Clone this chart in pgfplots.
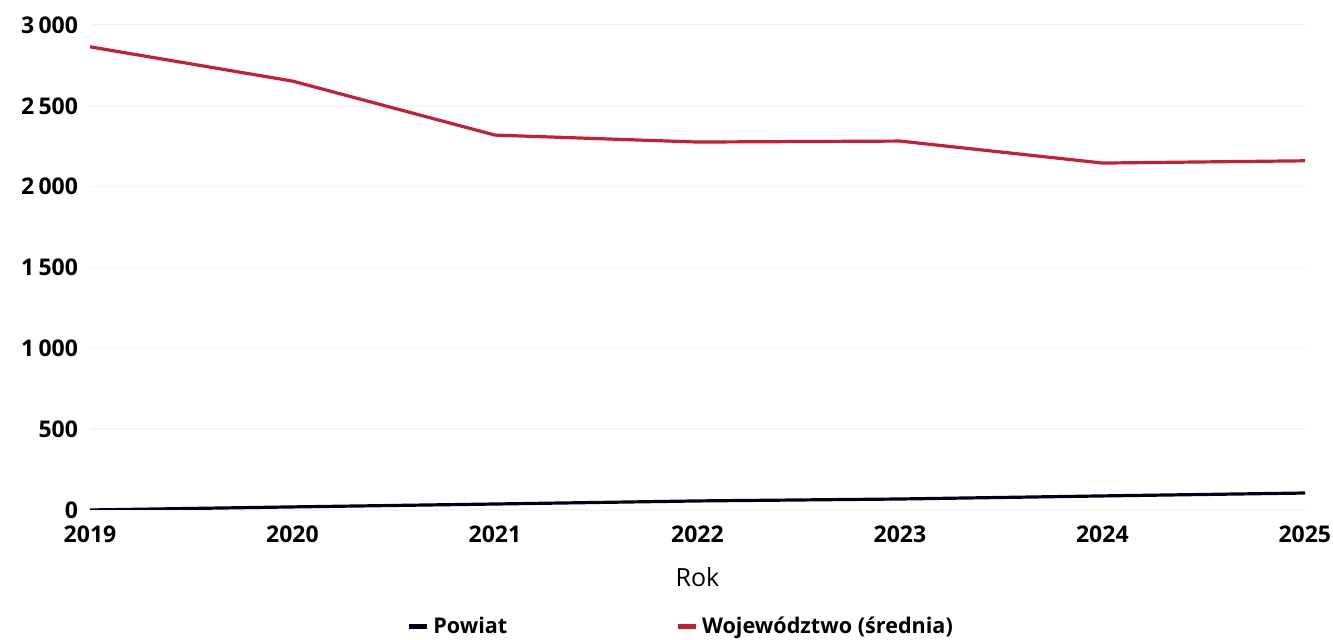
\documentclass[border=0pt]{standalone}
\usepackage{fontspec}
\setmainfont{Open Sans}
\usepackage{pgfplots}
\pgfplotsset{compat=1.18}
\definecolor{wojred}{RGB}{200,30,52}

\begin{document}
\fontsize{11.5}{13}\selectfont\bfseries
\begin{tikzpicture}
\path[use as bounding box] (-45pt,-65pt) rectangle (621.5pt,255pt);
\begin{axis}[
    at={(0,0)}, anchor=south west,
    scale only axis,
    width=607.5pt, height=242.5pt,
    xmin=2019, xmax=2025,
    ymin=0, ymax=3000,
    axis line style={draw=none},
    tick style={draw=none},
    xtick={2019,...,2025},
    ytick={0,500,...,3000},
    ymajorgrids,
    major grid style={draw=gray!8, line width=0.8pt},
    xticklabel style={/pgf/number format/1000 sep={}, yshift=-4pt},
    /pgf/number format/assume math mode=true,
    yticklabel style={/pgf/number format/1000 sep={\hspace{2.2pt}}, xshift=-2pt},
    xlabel={\mdseries\fontsize{12.5}{14}\selectfont Rok},
    xlabel style={at={(axis description cs:0.5,-0.138)}, anchor=center},
    legend columns=2,
    legend style={at={(axis description cs:0.487,-0.241)}, anchor=center,
        font=\fontsize{10.8}{12}\selectfont,
        draw=none, fill=none, /tikz/every even column/.append style={column sep=82pt}},
    legend image code/.code={\draw[#1, line width=2.4pt] (0pt,0pt) -- (9pt,0pt);},
    legend cell align=left,
]
\addplot[black!90!blue, line width=1.6pt] coordinates {
    (2019,0) (2020,19) (2021,37) (2022,56) (2023,68) (2024,87) (2025,105)
};
\addplot[wojred, line width=1.6pt] coordinates {
    (2019,2865) (2020,2653) (2021,2319) (2022,2276) (2023,2282) (2024,2146) (2025,2160)
};
\legend{Powiat, Województwo (średnia)}
\end{axis}
\end{tikzpicture}
\end{document}
